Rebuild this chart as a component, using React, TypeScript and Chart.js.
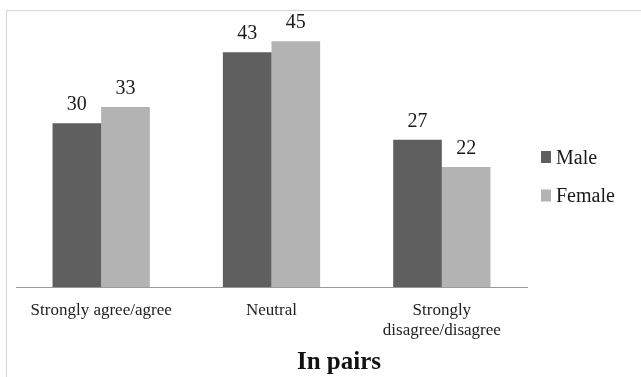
import React, { useEffect, useRef } from "react";
import { Chart, registerables } from "chart.js";

Chart.register(...registerables);

const categoryLabels: (string | string[])[] = [
  "Strongly agree/agree",
  "Neutral",
  ["Strongly", "disagree/disagree"],
];
const seriesNames = ["Male", "Female"];
const maleValues = [30, 43, 27];
const femaleValues = [33, 45, 22];
const seriesColors = ["#5f5f5f", "#b3b3b3"];
const chartTitle = "In pairs";
const yMin = 0;
const yMax = 50;

const FONT = '"Liberation Serif", "Times New Roman", serif';

const dataLabelPlugin = {
  id: "dataLabels",
  afterDatasetsDraw(chart: any) {
    const ctx = chart.ctx;
    ctx.save();
    ctx.font = `20px ${FONT}`;
    ctx.fillStyle = "#1a1a1a";
    ctx.textAlign = "center";
    ctx.textBaseline = "alphabetic";
    chart.data.datasets.forEach((ds: any, i: number) => {
      const meta = chart.getDatasetMeta(i);
      meta.data.forEach((el: any, j: number) => {
        ctx.fillText(String(ds.data[j]), el.x, el.y - 13);
      });
    });
    ctx.restore();
  },
};

const sideLegendPlugin = {
  id: "sideLegend",
  afterDraw(chart: any) {
    const ctx = chart.ctx;
    const area = chart.chartArea;
    const x0 = area.right + 14;
    const boxW = 10;
    const boxH = 12;
    const firstTop = area.top + 137;
    const gap = 38.5;
    ctx.save();
    ctx.font = `20px ${FONT}`;
    ctx.textAlign = "left";
    ctx.textBaseline = "alphabetic";
    chart.data.datasets.forEach((ds: any, i: number) => {
      const top = firstTop + i * gap;
      ctx.fillStyle = ds.backgroundColor;
      ctx.fillRect(x0, top, boxW, boxH);
      ctx.fillStyle = "#1a1a1a";
      ctx.fillText(ds.label, x0 + 15, top + boxH + 0.5);
    });
    ctx.restore();
  },
};

export default function App() {
  const canvasRef = useRef<HTMLCanvasElement | null>(null);

  useEffect(() => {
    let chart: Chart | null = null;
    let cancelled = false;
    const build = () => {
      if (cancelled || !canvasRef.current) return;
      chart = new Chart(canvasRef.current, {
        type: "bar",
        data: {
          labels: categoryLabels,
          datasets: [
            {
              label: seriesNames[0],
              data: maleValues,
              backgroundColor: seriesColors[0],
              categoryPercentage: 0.571,
              barPercentage: 1,
            },
            {
              label: seriesNames[1],
              data: femaleValues,
              backgroundColor: seriesColors[1],
              categoryPercentage: 0.571,
              barPercentage: 1,
            },
          ],
        },
        options: {
          animation: false,
          responsive: true,
          maintainAspectRatio: false,
          layout: { padding: { left: 9, right: 0, top: 3, bottom: 0 } },
          plugins: {
            legend: { display: false },
            tooltip: { enabled: false },
            title: {
              display: true,
              fullSize: true,
              text: chartTitle,
              position: "bottom",
              color: "#111",
              font: { family: FONT, size: 25, weight: "bold", lineHeight: 1 },
              padding: { top: -3.5, bottom: 1.5 },
            },
          },
          scales: {
            x: {
              grid: { display: false, drawTicks: false },
              border: { display: true, color: "#9a9a9a", width: 1 },
              ticks: {
                color: "#222",
                padding: 13,
                maxRotation: 0,
                autoSkip: false,
                font: { family: FONT, size: 17 },
              },
            },
            y: {
              position: "right",
              display: true,
              min: yMin,
              max: yMax,
              grid: { display: false, drawTicks: false },
              border: { display: false },
              ticks: { display: false },
              afterFit: (scale: any) => {
                scale.width = 135;
              },
            },
          },
        },
        plugins: [dataLabelPlugin, sideLegendPlugin],
      });
    };
    const fonts: any = (document as any).fonts;
    if (fonts && fonts.load) {
      Promise.all([
        fonts.load('17px "Liberation Serif"'),
        fonts.load('bold 25px "Liberation Serif"'),
      ])
        .catch(() => undefined)
        .then(build);
    } else {
      build();
    }
    return () => {
      cancelled = true;
      if (chart) chart.destroy();
    };
  }, []);

  return (
    <div
      style={{
        position: "absolute",
        left: 6,
        top: 10,
        width: 660,
        height: 372,
        border: "1px solid #d6d6d6",
        background: "#fff",
      }}
    >
      <div style={{ position: "relative", width: 655, height: 366 }}>
        <canvas ref={canvasRef} />
      </div>
    </div>
  );
}
